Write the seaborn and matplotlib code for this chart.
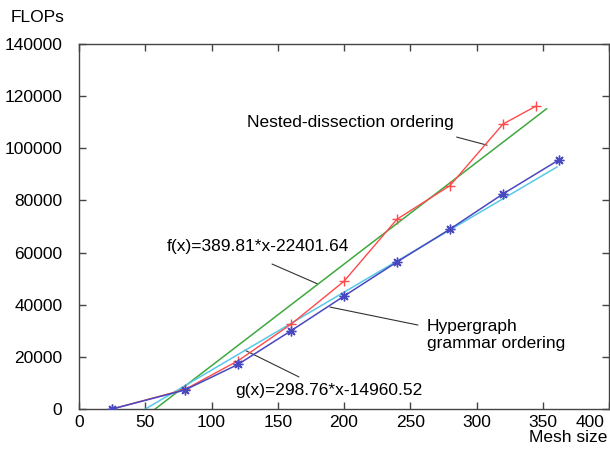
import numpy as np
import pandas as pd
import matplotlib
matplotlib.use("Agg")
import matplotlib.pyplot as plt
import seaborn as sns
from matplotlib.transforms import ScaledTranslation

# Data
nd_x = [25, 80, 120, 160, 200, 240, 280, 320, 345]
nd_y = [0, 7500, 18500, 32500, 49000, 72800, 85700, 109300, 116200]
hg_x = [25, 80, 120, 160, 200, 240, 280, 320, 362]
hg_y = [0, 7300, 17100, 30000, 43300, 56400, 69000, 82500, 95500]

f_a, f_b = 389.81, -22401.64
g_a, g_b = 298.76, -14960.52
f_label = "f(x)=389.81*x-22401.64"
g_label = "g(x)=298.76*x-14960.52"

x_ticks = [0, 50, 100, 150, 200, 250, 300, 350, 400]
y_ticks = [0, 20000, 40000, 60000, 80000, 100000, 120000, 140000]

sns.set_style("ticks")
plt.rcParams['font.family'] = ['Liberation Sans', 'DejaVu Sans']
plt.rcParams['text.color'] = 'black'
plt.rcParams['xtick.color'] = '#444444'
plt.rcParams['ytick.color'] = '#444444'
plt.rcParams['xtick.labelcolor'] = 'black'
plt.rcParams['ytick.labelcolor'] = 'black'
FS = 12.5

fig = plt.figure(figsize=(6.1, 4.55), dpi=100)
ax = fig.add_axes([79/610, 1-409/455, 530/610, 365/455])

c_red = "#ff4a4a"
c_green = "#3fa83f"
c_blue = "#4848c0"
c_cyan = "#58c8e8"

# fit lines
fx = np.linspace(40, 353, 50)
gx = np.linspace(40, 361, 50)
df_f = pd.DataFrame({"x": fx, "y": f_a * fx + f_b})
df_g = pd.DataFrame({"x": gx, "y": g_a * gx + g_b})
sns.lineplot(data=df_f, x="x", y="y", ax=ax, color=c_green, lw=1.1, zorder=2)
sns.lineplot(data=df_g, x="x", y="y", ax=ax, color=c_cyan, lw=1.1, zorder=2)

df_nd = pd.DataFrame({"x": nd_x, "y": nd_y})
df_hg = pd.DataFrame({"x": hg_x, "y": hg_y})
sns.lineplot(data=df_nd, x="x", y="y", ax=ax, color=c_red, lw=1.0, marker="+",
             markersize=7, markeredgewidth=1.0, markeredgecolor=c_red, zorder=3)
sns.lineplot(data=df_hg, x="x", y="y", ax=ax, color=c_blue, lw=1.1, marker=(8, 2, 0),
             markersize=7, markeredgewidth=1.0, markeredgecolor=c_blue, zorder=3)

ax.set_xlim(0, 400)
ax.set_ylim(0, 140000)
ax.set_xticks(x_ticks)
ax.set_yticks(y_ticks)
ax.set_xticklabels([str(v) for v in x_ticks], fontsize=FS)
ax.set_yticklabels([str(v) for v in y_ticks], fontsize=FS)
ax.tick_params(direction="in", length=5, width=1, top=True, right=True)
ax.tick_params(axis="x", pad=4)
ax.tick_params(axis="y", pad=12)
# last x tick label kept inside the picture
xl = ax.get_xticklabels()
xl[-1].set_horizontalalignment("right")
xl[-1].set_transform(xl[-1].get_transform() + ScaledTranslation(-4/100, 0, fig.dpi_scale_trans))
for s in ax.spines.values():
    s.set_visible(True)
    s.set_color("#444444")
    s.set_linewidth(1.0)
ax.set_xlabel("")
ax.set_ylabel("")

fig.text(38/610, 1-17/455, "FLOPs", fontsize=FS, ha="center", va="center")
fig.text(568/610, 1-438/455, "Mesh size", fontsize=FS, ha="center", va="center")

# annotations
ax.text(350/610, 1-123/455, "Nested-dissection ordering", transform=fig.transFigure,
        fontsize=FS, ha="center", va="center")
ax.plot([285, 308], [104300, 101200], color="#333333", lw=0.8, zorder=1)
ax.text(258/610, 1-247/455, f_label, transform=fig.transFigure, fontsize=FS,
        ha="center", va="center")
ax.plot([145.7, 180], [55600, 48000], color="#333333", lw=0.8, zorder=1)
ax.text(427/610, 1-335/455, "Hypergraph\ngrammar ordering", transform=fig.transFigure,
        fontsize=FS, ha="left", va="center", linespacing=1.1)
ax.plot([255.8, 189.4], [32200, 39100], color="#333333", lw=0.8, zorder=1)
ax.text(235/610, 1-390/455, g_label, transform=fig.transFigure, fontsize=FS,
        ha="left", va="center")
ax.plot([166, 125], [12300, 22600], color="#333333", lw=0.8, zorder=1)

fig.savefig("out.png", dpi=100)
